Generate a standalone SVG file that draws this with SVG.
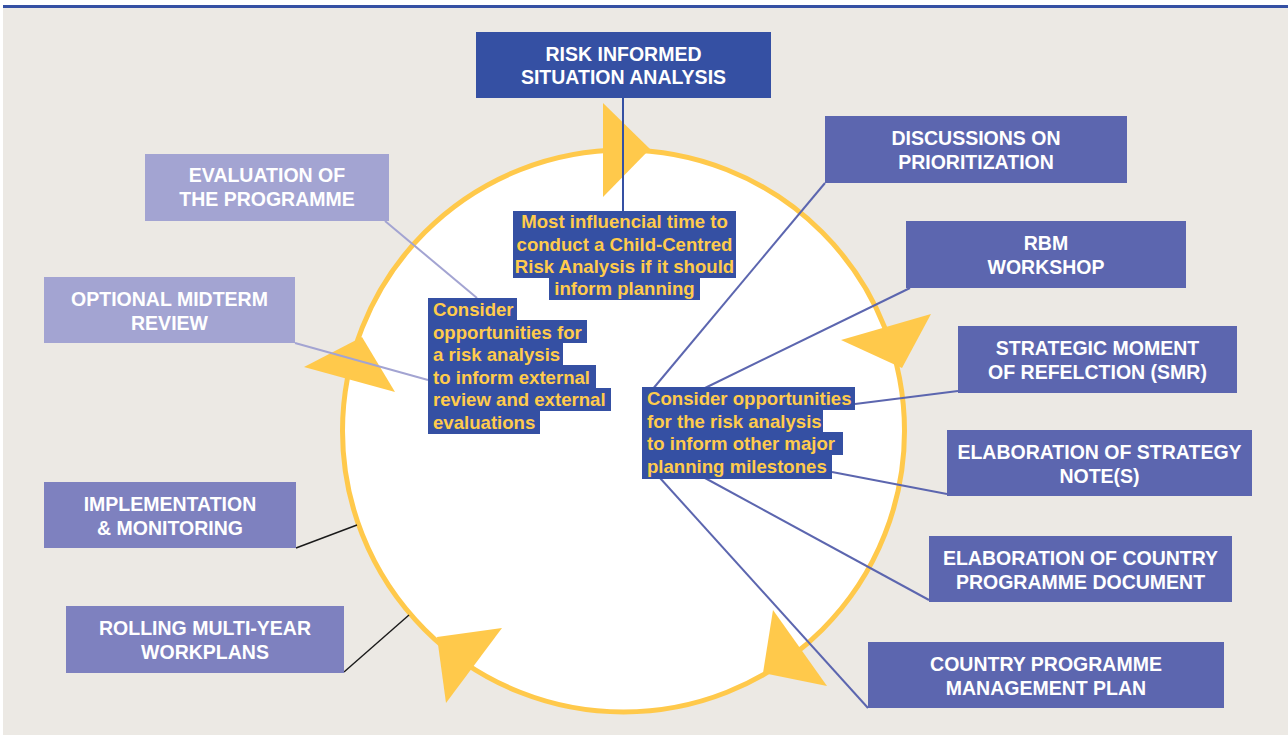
<svg xmlns="http://www.w3.org/2000/svg" width="1288" height="735" viewBox="0 0 1288 735">
<style>
.bt{font-family:"Liberation Sans",Arial,sans-serif;font-weight:bold;font-size:19.5px;fill:#ffffff;text-anchor:middle}
.yt{font-family:"Liberation Sans",Arial,sans-serif;font-weight:bold;font-size:18.6px;fill:#FFCB4C}
.ytc{text-anchor:middle}
.hl{fill:#3550A3}
.dk{fill:#3550A3}
.md{fill:#5C66AF}
.lt{fill:#A3A4D2}
.mm{fill:#7E81BF}
.tri{fill:#FFC94B}
.cm{stroke:#5C66AF;stroke-width:2;fill:none}
.cl{stroke:#A3A4D2;stroke-width:2;fill:none}
.ck{stroke:#1a1a1a;stroke-width:1.4;fill:none}
</style>
<rect x="0" y="0" width="1288" height="735" fill="#ffffff"/>
<rect x="3" y="7" width="1285" height="728" fill="#ECE9E4"/>
<rect x="3" y="5" width="1285" height="3" fill="#3550A3"/>
<g id="cycle">
<circle cx="623.5" cy="431" r="281" fill="#ffffff" stroke="#FFC94B" stroke-width="5"/>
<polygon class="tri" points="603,103 650,149 603,197"/>
<polygon class="tri" points="841,340 931,314 902,368"/>
<polygon class="tri" points="773,610 827,686 763,673"/>
<polygon class="tri" points="502,628 446,703 437,637"/>
<polygon class="tri" points="304,367 395,392 362,337"/>
</g>
<g id="connectors">
<line x1="623" y1="98" x2="623" y2="211" stroke="#3550A3" stroke-width="2"/>
<line class="cm" x1="825" y1="183" x2="652" y2="390"/>
<line class="cm" x1="910" y1="288" x2="705" y2="388"/>
<line class="cm" x1="855" y1="404" x2="958" y2="391"/>
<line class="cm" x1="832" y1="472" x2="947" y2="494"/>
<line class="cm" x1="705" y1="478" x2="929" y2="600"/>
<line class="cm" x1="660" y1="478" x2="868" y2="708"/>
<line class="cl" x1="385" y1="221" x2="477" y2="298"/>
<line class="cl" x1="295" y1="343" x2="428" y2="380"/>
<line class="ck" x1="296" y1="548" x2="357" y2="525"/>
<line class="ck" x1="344" y1="672" x2="409" y2="615"/>
</g>
<g id="risk-informed">
<rect class="dk" x="476" y="32" width="295" height="66"/>
<text class="bt" x="623.5" y="61">RISK INFORMED</text>
<text class="bt" x="623.5" y="84">SITUATION ANALYSIS</text>
</g>
<g id="discussions">
<rect class="md" x="825" y="116" width="302" height="67"/>
<text class="bt" x="976" y="145">DISCUSSIONS ON</text>
<text class="bt" x="976" y="169">PRIORITIZATION</text>
</g>
<g id="rbm">
<rect class="md" x="906" y="221" width="280" height="67"/>
<text class="bt" x="1046" y="250">RBM</text>
<text class="bt" x="1046" y="274">WORKSHOP</text>
</g>
<g id="smr">
<rect class="md" x="958" y="326" width="279" height="67"/>
<text class="bt" x="1097.5" y="355">STRATEGIC MOMENT</text>
<text class="bt" x="1097.5" y="379">OF REFELCTION (SMR)</text>
</g>
<g id="strategy-note">
<rect class="md" x="947" y="430" width="305" height="66"/>
<text class="bt" x="1099.5" y="459">ELABORATION OF STRATEGY</text>
<text class="bt" x="1099.5" y="483">NOTE(S)</text>
</g>
<g id="cpd">
<rect class="md" x="929" y="536" width="303" height="66"/>
<text class="bt" x="1080.5" y="565">ELABORATION OF COUNTRY</text>
<text class="bt" x="1080.5" y="589">PROGRAMME DOCUMENT</text>
</g>
<g id="cpmp">
<rect class="md" x="868" y="642" width="356" height="66"/>
<text class="bt" x="1046" y="671">COUNTRY PROGRAMME</text>
<text class="bt" x="1046" y="695">MANAGEMENT PLAN</text>
</g>
<g id="evaluation">
<rect class="lt" x="145" y="154" width="244" height="67"/>
<text class="bt" x="267" y="182">EVALUATION OF</text>
<text class="bt" x="267" y="206">THE PROGRAMME</text>
</g>
<g id="midterm">
<rect class="lt" x="44" y="277" width="251" height="66"/>
<text class="bt" x="169.5" y="306">OPTIONAL MIDTERM</text>
<text class="bt" x="169.5" y="330">REVIEW</text>
</g>
<g id="implementation">
<rect class="mm" x="44" y="482" width="252" height="66"/>
<text class="bt" x="170" y="511">IMPLEMENTATION</text>
<text class="bt" x="170" y="535">&amp; MONITORING</text>
</g>
<g id="rolling">
<rect class="mm" x="66" y="606" width="278" height="67"/>
<text class="bt" x="205" y="635">ROLLING MULTI-YEAR</text>
<text class="bt" x="205" y="659">WORKPLANS</text>
</g>
<g id="note-influential">
<rect class="hl" x="513" y="211" width="223" height="23"/>
<rect class="hl" x="513" y="233" width="223" height="23"/>
<rect class="hl" x="513" y="255" width="223" height="23"/>
<rect class="hl" x="549" y="277" width="151" height="23"/>
<text class="yt ytc" x="624.5" y="228">Most influencial time to</text>
<text class="yt ytc" x="624.5" y="250.5">conduct a Child-Centred</text>
<text class="yt ytc" x="624.5" y="273">Risk Analysis if it should</text>
<text class="yt ytc" x="624.5" y="295">inform planning</text>
</g>
<g id="note-external">
<rect class="hl" x="428" y="298" width="89" height="23"/>
<rect class="hl" x="428" y="320" width="159" height="23"/>
<rect class="hl" x="428" y="343" width="135" height="23"/>
<rect class="hl" x="428" y="365" width="168" height="23"/>
<rect class="hl" x="428" y="388" width="183" height="23"/>
<rect class="hl" x="428" y="410" width="112" height="24"/>
<text class="yt" x="433" y="316">Consider</text>
<text class="yt" x="433" y="338.5">opportunities for</text>
<text class="yt" x="433" y="361">a risk analysis</text>
<text class="yt" x="433" y="383.5">to inform external</text>
<text class="yt" x="433" y="406">review and external</text>
<text class="yt" x="433" y="428.5">evaluations</text>
</g>
<g id="note-milestones">
<rect class="hl" x="642" y="387" width="213" height="23"/>
<rect class="hl" x="642" y="409" width="181" height="23"/>
<rect class="hl" x="642" y="432" width="201" height="23"/>
<rect class="hl" x="642" y="454" width="190" height="25"/>
<text class="yt" x="647" y="405">Consider opportunities</text>
<text class="yt" x="647" y="427.5">for the risk analysis</text>
<text class="yt" x="647" y="450">to inform other major</text>
<text class="yt" x="647" y="472.5">planning milestones</text>
</g>
</svg>
